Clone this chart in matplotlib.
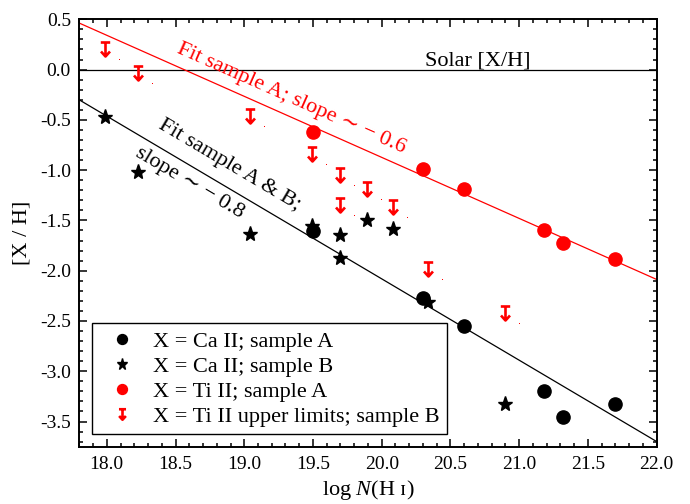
import numpy as np
import matplotlib
matplotlib.use("Agg")
import matplotlib.pyplot as plt
from matplotlib.path import Path
from matplotlib.legend_handler import HandlerTuple
from matplotlib.ticker import MultipleLocator, FormatStrFormatter

plt.rcParams['font.family'] = ['Liberation Serif', 'DejaVu Serif']
plt.rcParams['mathtext.fontset'] = 'custom'
plt.rcParams['mathtext.rm'] = 'Liberation Serif'
plt.rcParams['mathtext.it'] = 'Liberation Serif:italic'
plt.rcParams['axes.unicode_minus'] = False

# Ca II, sample A
ca_a_logN = [19.50, 20.30, 20.60, 21.18, 21.32, 21.70]
ca_a_XH = [-1.61, -2.27, -2.55, -3.20, -3.45, -3.33]

# Ca II, sample B
ca_b_logN = [17.99, 18.23, 19.04, 19.49, 19.70, 19.70, 19.89, 20.08, 20.34, 20.90]
ca_b_XH = [-0.47, -1.02, -1.63, -1.56, -1.64, -1.87, -1.50, -1.59, -2.31, -3.33]

# Ti II, sample A
ti_a_logN = [19.50, 20.30, 20.60, 21.18, 21.32, 21.70]
ti_a_XH = [-0.62, -0.99, -1.19, -1.60, -1.72, -1.88]

# Ti II upper limits, sample B
ti_ul_logN = [17.99, 18.23, 19.04, 19.49, 19.70, 19.70, 19.89, 20.08, 20.34, 20.90]
ti_ul_XH = [0.20, -0.03, -0.46, -0.84, -1.05, -1.35, -1.19, -1.37, -1.98, -2.42]

# Linear fits: [X/H] = intercept + slope * log N(H I)
fit_a_slope, fit_a_intercept = -0.607, 11.267
fit_ab_slope, fit_ab_intercept = -0.809, 14.099

xticks = [18.0, 18.5, 19.0, 19.5, 20.0, 20.5, 21.0, 21.5, 22.0]
yticks = [-3.5, -3.0, -2.5, -2.0, -1.5, -1.0, -0.5, 0.0, 0.5]

PX2PT = 0.72  # points per pixel at 100 dpi

# Upper-limit marker: bar, stem and arrow head (units: px)
arrow_path = Path([(-4.7, 7), (4.7, 7),
                   (0, 7), (0, -7),
                   (-4.5, -2), (0, -7), (4.5, -2)],
                  [Path.MOVETO, Path.LINETO,
                   Path.MOVETO, Path.LINETO,
                   Path.MOVETO, Path.LINETO, Path.LINETO])
arrow_size = 2 * np.max(np.abs(arrow_path.vertices)) * PX2PT

# Small companion dot drawn to the lower right of each arrow (units: px)
dot_path = Path([(14.0, -9.5), (15.0, -9.5), (15.0, -10.5), (14.0, -10.5), (14.0, -9.5)],
                [Path.MOVETO, Path.LINETO, Path.LINETO, Path.LINETO, Path.CLOSEPOLY])
dot_size = 2 * np.max(np.abs(dot_path.vertices)) * PX2PT

fig = plt.figure(figsize=(6.9, 5.04), dpi=100)
ax = fig.add_axes([0.1149, 0.1137, 0.8368, 0.848])

xl = np.array([17.8, 22.0])
ax.axhline(0.0, color='black', lw=0.9, zorder=1)
ax.plot(xl, fit_a_intercept + fit_a_slope * xl, color='red', lw=0.9, zorder=1)
ax.plot(xl, fit_ab_intercept + fit_ab_slope * xl, color='black', lw=0.9, zorder=1)

h1, = ax.plot(ca_a_logN, ca_a_XH, 'o', color='black', ms=9.5, ls='none', zorder=3)
h2, = ax.plot(ca_b_logN, ca_b_XH, '*', color='black', ms=11, ls='none', zorder=4)
h3, = ax.plot(ti_a_logN, ti_a_XH, 'o', color='red', ms=9.5, ls='none', zorder=3)
h4a, = ax.plot(ti_ul_logN, ti_ul_XH, marker=arrow_path, ms=arrow_size, ls='none',
               mec='red', mfc='none', mew=1.9, zorder=3)
h4b, = ax.plot(ti_ul_logN, ti_ul_XH, marker=dot_path, ms=dot_size, ls='none',
               mfc='red', mec='none', mew=0, zorder=3)

ax.text(20.70, 0.04, 'Solar [X/H]', fontsize=16, ha='center', va='baseline')
ax.text(19.34, -0.29, 'Fit sample A; slope \u223c \u2212 0.6', color='red', fontsize=16,
        rotation=-23.9, rotation_mode='anchor', ha='center', va='center')
ax.text(18.89, -0.95, 'Fit sample A & B;', color='black', fontsize=16,
        rotation=-30.6, rotation_mode='anchor', ha='center', va='center')
ax.text(18.60, -1.13, 'slope \u223c \u2212 0.8', color='black', fontsize=16,
        rotation=-30.6, rotation_mode='anchor', ha='center', va='center')

ax.set_xlim(17.8, 22.0)
ax.set_ylim(-3.75, 0.5)
ax.set_xticks(xticks)
ax.set_yticks(yticks)
ax.xaxis.set_major_formatter(FormatStrFormatter('%.1f'))
ax.yaxis.set_major_formatter(FormatStrFormatter('%.1f'))
ax.xaxis.set_minor_locator(MultipleLocator(0.1))
ax.yaxis.set_minor_locator(MultipleLocator(0.1))
ax.tick_params(which='both', direction='in', top=True, right=True, width=1.1)
ax.tick_params(which='major', length=5.5, labelsize=14)
ax.tick_params(which='minor', length=3)
ax.tick_params(axis='x', pad=7)
ax.tick_params(axis='y', pad=6)
for sp in ax.spines.values():
    sp.set_linewidth(1.4)

ax.set_xlabel(r'log $\mathit{N}$(H ɪ)', fontsize=16, labelpad=3)
ax.set_ylabel('[X / H]', fontsize=16, labelpad=6)

leg = ax.legend([h1, h2, h3, (h4a, h4b)],
                ['X = Ca II; sample A', 'X = Ca II; sample B',
                 'X = Ti II; sample A', 'X = Ti II upper limits; sample B'],
                handler_map={tuple: HandlerTuple(ndivide=1)},
                loc='lower left', bbox_to_anchor=(0.022, 0.029), borderaxespad=0,
                fontsize=16, frameon=True, fancybox=False, edgecolor='black',
                framealpha=1, markerscale=0.75, handletextpad=0.4,
                labelspacing=0.2, borderpad=0.35, handlelength=2.0)
leg.get_frame().set_linewidth(1.0)

fig.savefig('out.png', dpi=100)
